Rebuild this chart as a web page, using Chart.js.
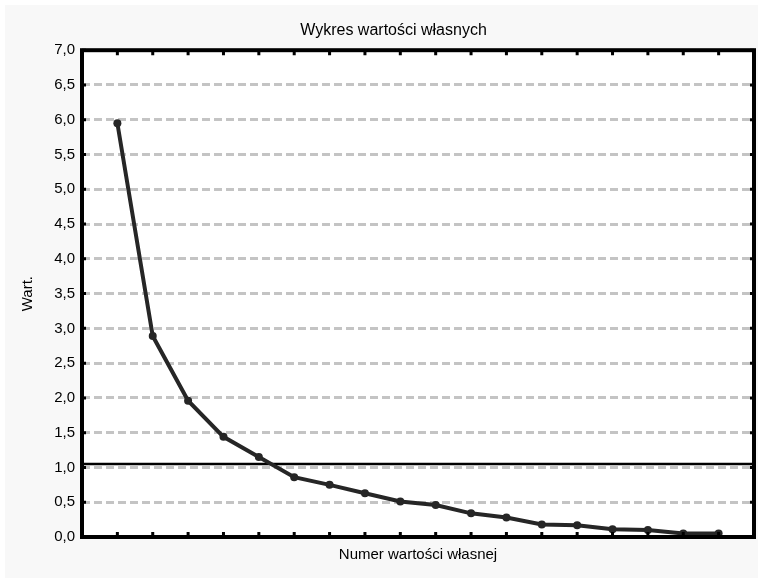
<!DOCTYPE html>
<html>
<head>
<meta charset="utf-8">
<script src="https://cdn.jsdelivr.net/npm/chart.js@4"></script>
<style>
  html, body { margin: 0; padding: 0; background: #fff; }
  #wrap { width: 758px; height: 578px; }
</style>
</head>
<body>
<div id="wrap"><canvas id="scree"></canvas></div>
<script>
// eigenvalue numbers and values
const numbers = [1, 2, 3, 4, 5, 6, 7, 8, 9, 10, 11, 12, 13, 14, 15, 16, 17, 18];
const eigenvalues = [5.95, 2.89, 1.96, 1.44, 1.15, 0.86, 0.75, 0.63, 0.51, 0.46, 0.34, 0.28, 0.18, 0.17, 0.11, 0.10, 0.05, 0.05];
const cutoff = 1.05;
const yTicks = [0, 0.5, 1, 1.5, 2, 2.5, 3, 3.5, 4, 4.5, 5, 5.5, 6, 6.5, 7];

const fmt = v => v.toFixed(1).replace('.', ',');

// background, frame and inward tick marks
const framePlugin = {
  id: 'frame',
  afterLayout(chart) {
    // title sits a bit right of the canvas centre in the original
    if (chart.titleBlock) chart.titleBlock.left += 32;
  },
  beforeDraw(chart) {
    const ctx = chart.ctx;
    ctx.save();
    ctx.fillStyle = '#ffffff';
    ctx.fillRect(0, 0, chart.width, chart.height);
    ctx.fillStyle = '#f8f8f8';
    ctx.fillRect(5, 5, chart.width - 5, chart.height - 5);
    const a = chart.chartArea;
    ctx.fillStyle = '#ffffff';
    ctx.fillRect(a.left, a.top, a.right - a.left, a.bottom - a.top);
    ctx.restore();
  },
  afterDraw(chart) {
    const ctx = chart.ctx;
    const a = chart.chartArea;
    const xs = chart.scales.x, ys = chart.scales.y;
    ctx.save();
    ctx.strokeStyle = '#000';
    ctx.lineWidth = 3;
    ctx.beginPath();
    numbers.forEach(n => {
      const px = xs.getPixelForValue(n);
      ctx.moveTo(px, a.top); ctx.lineTo(px, a.top + 5);
      ctx.moveTo(px, a.bottom); ctx.lineTo(px, a.bottom - 5);
    });
    yTicks.forEach(v => {
      const py = ys.getPixelForValue(v);
      ctx.moveTo(a.left, py); ctx.lineTo(a.left + 4, py);
      ctx.moveTo(a.right, py); ctx.lineTo(a.right - 4, py);
    });
    ctx.stroke();
    ctx.lineWidth = 4;
    ctx.strokeRect(a.left, a.top, a.right - a.left, a.bottom - a.top);
    ctx.restore();
  }
};

new Chart(document.getElementById('scree'), {
  type: 'line',
  data: {
    datasets: [{
      data: numbers.map((n, i) => ({ x: n, y: eigenvalues[i] })),
      borderColor: '#262626',
      backgroundColor: '#262626',
      borderWidth: 4,
      pointRadius: 4,
      pointBorderWidth: 0,
      tension: 0,
      fill: false
    }, {
      data: [{ x: 0, y: cutoff }, { x: numbers.length + 1, y: cutoff }],
      borderColor: '#000',
      borderWidth: 2.5,
      pointRadius: 0,
      fill: false
    }]
  },
  options: {
    responsive: true,
    maintainAspectRatio: false,
    animation: false,
    layout: { padding: { left: 0, right: 3, top: 0, bottom: 0 } },
    plugins: {
      legend: { display: false },
      tooltip: { enabled: false },
      title: {
        display: true,
        text: 'Wykres wartości własnych',
        color: '#000',
        font: { family: 'Liberation Sans, Arial', size: 16, weight: 'normal' },
        padding: { top: 21, bottom: 10 }
      }
    },
    scales: {
      x: {
        type: 'linear',
        min: 0,
        max: numbers.length + 1,
        ticks: { display: false },
        grid: { display: false, drawTicks: false },
        border: { display: false },
        title: {
          display: true,
          text: 'Numer wartości własnej',
          color: '#000',
          font: { family: 'Liberation Sans, Arial', size: 15 },
          padding: { top: 9, bottom: 14 }
        }
      },
      y: {
        min: 0,
        max: 7,
        afterFit: s => { s.width = 82; },
        afterBuildTicks: s => { s.ticks = yTicks.map(v => ({ value: v })); },
        ticks: {
          color: '#000',
          padding: 7,
          font: { family: 'Liberation Sans, Arial', size: 15 },
          callback: v => fmt(v)
        },
        grid: {
          color: c => (c.tick.value === 0 || c.tick.value === 7) ? 'rgba(0,0,0,0)' : '#c4c4c4',
          lineWidth: 3,
          drawTicks: false
        },
        border: { display: false, dash: [8, 4] },
        title: {
          display: true,
          text: 'Wart.',
          color: '#000',
          font: { family: 'Liberation Sans, Arial', size: 15 },
          padding: { top: 19, bottom: 0 }
        }
      }
    }
  },
  plugins: [framePlugin]
});
</script>
</body>
</html>
